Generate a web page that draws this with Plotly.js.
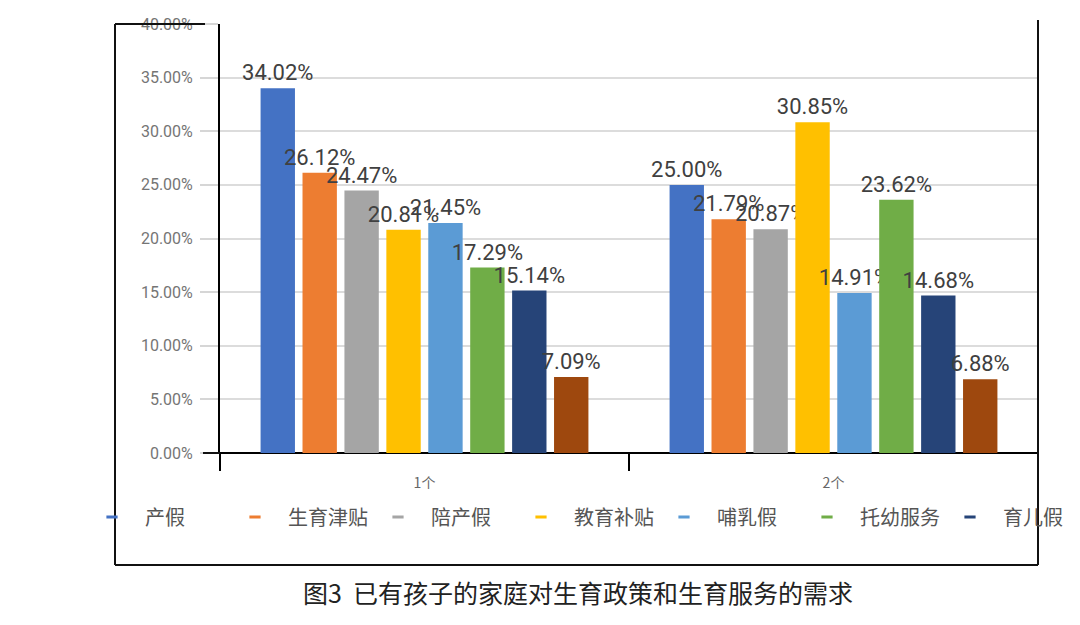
<!DOCTYPE html>
<html>
<head>
<meta charset="utf-8">
<script src="https://cdn.plot.ly/plotly-3.0.1.min.js"></script>
<style>html,body{margin:0;padding:0;background:#fff;}#chart{width:1080px;height:625px;}</style>
</head>
<body>
<div id="chart"></div>
<script>
const categories = ['1个', '2个'];
const seriesNames = ['产假', '生育津贴', '陪产假', '教育补贴', '哺乳假', '托幼服务', '育儿假', '其他'];
const seriesColors = ['#4472C4', '#ED7D31', '#A5A5A5', '#FFC000', '#5B9BD5', '#70AD47', '#264478', '#9E480E'];
const values1 = [34.02, 26.12, 24.47, 20.81, 21.45, 17.29, 15.14, 7.09]; // 1个
const values2 = [25.00, 21.79, 20.87, 30.85, 14.91, 23.62, 14.68, 6.88]; // 2个
const yTicks = [0, 5, 10, 15, 20, 25, 30, 35, 40];
const caption = '图3  已有孩子的家庭对生育政策和生育服务的需求';

const CJK = '"Noto Sans CJK SC", "Noto Sans", sans-serif';
const NUM = 'Roboto, "Noto Sans", sans-serif';

const traces = [];
seriesNames.forEach((name, i) => {
  traces.push({
    type: 'bar',
    name: name,
    x: categories,
    y: [values1[i], values2[i]],
    marker: {color: seriesColors[i]},
    text: [values1[i], values2[i]].map(v => v.toFixed(2) + '%'),
    textposition: 'outside',
    constraintext: 'none',
    cliponaxis: false,
    textfont: {family: NUM, size: 22, color: '#404040'},
    legendgroup: name,
    showlegend: false,
    hoverinfo: 'name+y'
  });
});
seriesNames.forEach((name, i) => {
  traces.push({
    type: 'scatter',
    mode: 'markers',
    name: name,
    x: [null],
    y: [null],
    marker: {symbol: 'line-ew', size: 8, color: seriesColors[i], line: {color: seriesColors[i], width: 3}},
    legendgroup: name,
    showlegend: i < 7,
    hoverinfo: 'skip'
  });
});

const px = (x) => (x - 220) / 818;
const py = (y) => (453 - y) / 429;

const layout = {
  width: 1080,
  height: 625,
  margin: {l: 220, r: 42, t: 24, b: 172},
  paper_bgcolor: '#ffffff',
  plot_bgcolor: '#ffffff',
  barmode: 'group',
  bargap: 0.18,
  bargroupgap: 0.18,
  showlegend: true,
  legend: {
    orientation: 'h',
    x: px(104),
    xanchor: 'left',
    y: py(517),
    yanchor: 'middle',
    font: {family: CJK, size: 20, color: '#555555'},
    itemwidth: 56,
    entrywidth: 72,
    entrywidthmode: 'pixels',
    bgcolor: 'rgba(0,0,0,0)'
  },
  xaxis: {
    type: 'category',
    range: [-0.5, 1.5],
    showline: false,
    ticks: 'outside',
    tickson: 'boundaries',
    ticklen: 17,
    tickwidth: 2,
    tickcolor: '#000000',
    tickfont: {family: CJK, size: 14, color: '#666666'},
    ticklabelstandoff: 20,
    showgrid: false,
    zeroline: false,
    fixedrange: true
  },
  yaxis: {
    range: [0, 40],
    tickvals: yTicks,
    ticktext: yTicks.map(v => v.toFixed(2) + '%'),
    showline: true,
    linecolor: '#000000',
    linewidth: 2,
    ticks: 'outside',
    ticklen: 18,
    tickwidth: 2,
    tickcolor: '#d6d6d6',
    tickfont: {family: NUM, size: 16, color: '#757575'},
    ticklabelstandoff: 4,
    showgrid: true,
    gridcolor: '#dcdcdc',
    gridwidth: 2,
    zeroline: true,
    zerolinecolor: '#000000',
    zerolinewidth: 2,
    fixedrange: true
  },
  shapes: [
    {type: 'line', xref: 'paper', yref: 'paper', x0: px(115), x1: px(115), y0: py(24), y1: py(565), line: {color: '#111', width: 2}},
    {type: 'line', xref: 'paper', yref: 'paper', x0: px(115), x1: 1, y0: py(565), y1: py(565), line: {color: '#111', width: 2}},
    {type: 'line', xref: 'paper', yref: 'paper', x0: 1, x1: 1, y0: py(20), y1: py(565), line: {color: '#111', width: 2}},
    {type: 'line', xref: 'paper', yref: 'paper', x0: px(115), x1: px(205), y0: py(24), y1: py(24), line: {color: '#111', width: 2}},
    {type: 'line', xref: 'paper', yref: 'paper', x0: px(203), x1: 0, y0: 0, y1: 0, line: {color: '#111', width: 2}}
  ],
  annotations: [
    {xref: 'paper', yref: 'paper', x: px(578), y: py(592), xanchor: 'center', yanchor: 'middle',
     text: caption, showarrow: false, font: {family: CJK, size: 25, color: '#222222'}}
  ]
};

Plotly.newPlot('chart', traces, layout, {displayModeBar: false, responsive: false});
</script>
</body>
</html>
